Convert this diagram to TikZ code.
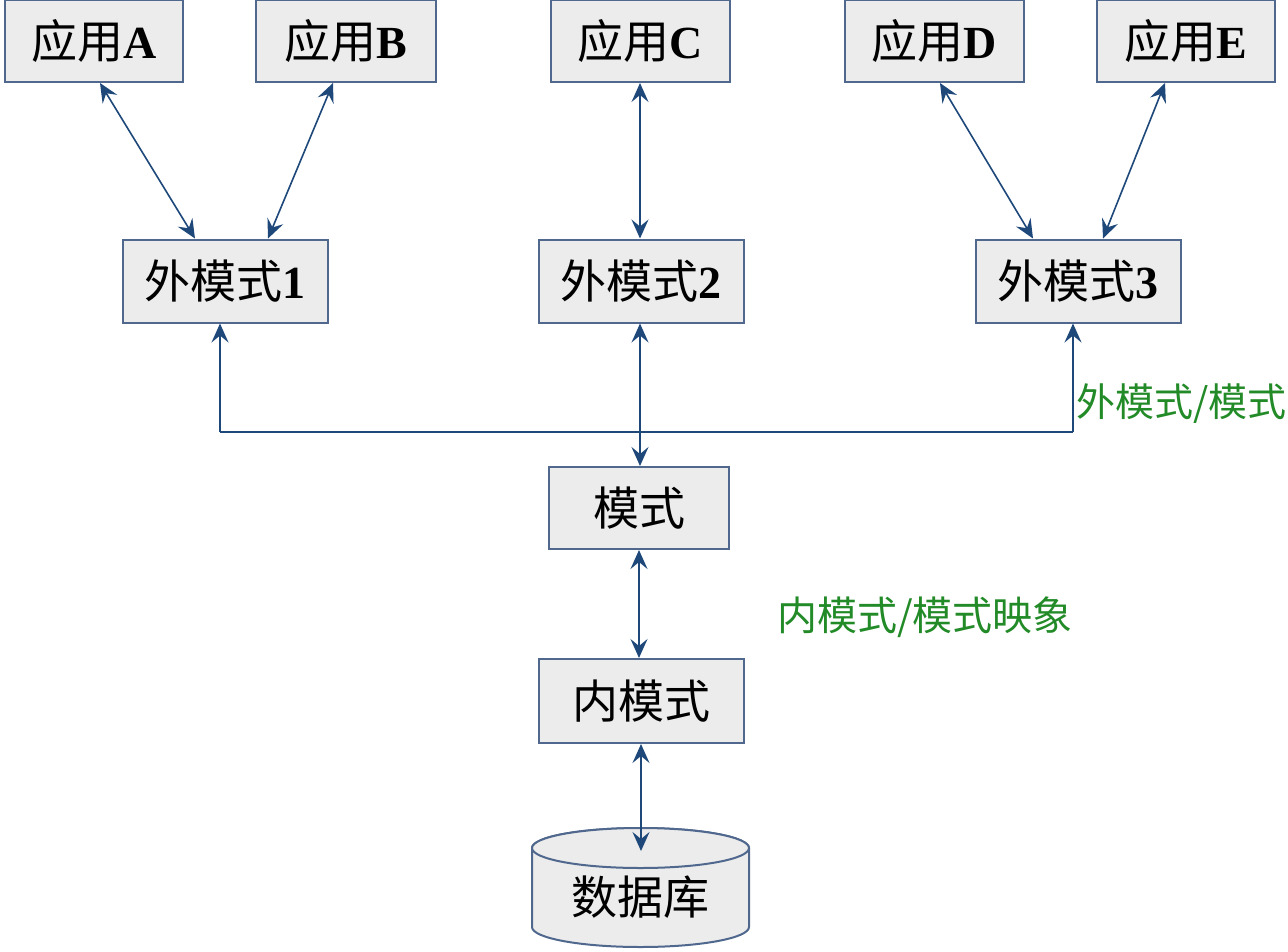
\documentclass[tikz,border=0pt]{standalone}
\usepackage{fontspec}
\setmainfont{Liberation Serif}
\newfontfamily\cjk{Noto Sans CJK SC}
\usetikzlibrary{arrows.meta}
\definecolor{boxc}{RGB}{236,236,236}
\definecolor{bordc}{RGB}{80,104,142}
\definecolor{arrc}{RGB}{30,72,122}
\definecolor{grn}{RGB}{34,139,40}
\newcommand\bxt[2]{{\cjk #1}\textbf{#2}}
\begin{document}
\begin{tikzpicture}[x=1pt,y=-1pt,
  bx/.style={draw=bordc, fill=boxc, line width=2pt, minimum height=82pt, inner sep=0pt, font=\fontsize{46}{52}\selectfont},
  tip/.style={},
  arr/.style={draw=arrc, line width=1.6pt, {Stealth[length=19pt,width=17pt,inset=7pt]}-{Stealth[length=19pt,width=17pt,inset=7pt]}},
  onearr/.style={draw=arrc, line width=1.6pt, -{Stealth[length=19pt,width=17pt,inset=7pt]}},
  ln/.style={draw=arrc, line width=1.6pt},
  glab/.style={text=grn, inner sep=0pt, anchor=west, font=\cjk\fontsize{39}{42}\selectfont}]
\fill[white] (0,0) rectangle (1288,951);
\useasboundingbox (0,0) rectangle (1288,951);
% application boxes
\node[bx, minimum width=178pt] (appA) at (94,41) {\bxt{应用}{A}};
\node[bx, minimum width=180pt] (appB) at (346,41) {\bxt{应用}{B}};
\node[bx, minimum width=179pt] (appC) at (640,41) {\bxt{应用}{C}};
\node[bx, minimum width=179pt] (appD) at (934,41) {\bxt{应用}{D}};
\node[bx, minimum width=178pt] (appE) at (1186,41) {\bxt{应用}{E}};
% external schemas
\node[bx, minimum width=205pt, minimum height=83pt] (ext1) at (225,281) {\bxt{外模式}{1}};
\node[bx, minimum width=205pt, minimum height=83pt] (ext2) at (641,281) {\bxt{外模式}{2}};
\node[bx, minimum width=205pt, minimum height=83pt] (ext3) at (1078,281) {\bxt{外模式}{3}};
% schema and internal schema
\node[bx, minimum width=180pt] (schema) at (639,508) {\cjk 模式};
\node[bx, minimum width=205pt, minimum height=84pt] (inner) at (641,701) {\cjk 内模式};
% database cylinder
\path[draw=bordc, fill=boxc, line width=2pt] (532,848) -- (532,927)
  arc[start angle=180, end angle=360, x radius=108.5pt, y radius=20pt] -- (749,848)
  arc[start angle=0, end angle=180, x radius=108.5pt, y radius=20pt] -- cycle;
\path[draw=bordc, fill=boxc, line width=2pt] (640.5,848) ellipse[x radius=108.5pt, y radius=20pt];
\node[font=\cjk\fontsize{46}{52}\selectfont, inner sep=0pt] (db) at (640,897) {数据库};
\coordinate (dbtop) at (641,851);
% connectors app -> ext
\draw[arr] ([xshift=6pt]appA.south) -- ([xshift=-30pt]ext1.north);
\draw[arr] ([xshift=-13pt]appB.south) -- ([xshift=43pt]ext1.north);
\draw[arr] (appC.south) -- (appC.south |- ext2.north);
\draw[arr] ([xshift=6pt]appD.south) -- ([xshift=-45pt]ext3.north);
\draw[arr] ([xshift=-21pt]appE.south) -- ([xshift=25pt]ext3.north);
% bus
\coordinate (bL) at (220,432);
\coordinate (bR) at (1073,432);
\draw[ln] (bL) -- (bR);
\draw[onearr] (bL) -- ([xshift=-5pt]ext1.south);
\draw[onearr] (bR) -- ([xshift=-5pt]ext3.south);
\draw[arr] ([xshift=-1pt]ext2.south) -- ([xshift=-1pt]ext2.south |- schema.north);
\draw[arr] (schema.south) -- (schema.south |- inner.north);
\draw[arr] (inner.south) -- (inner.south |- dbtop);
% labels
\node[glab] (lab1) at (1076,404) {外模式/模式};
\node[glab, font=\cjk\fontsize{40}{43}\selectfont] (lab2) at (777,617) {内模式/模式映象};
\end{tikzpicture}
\end{document}
